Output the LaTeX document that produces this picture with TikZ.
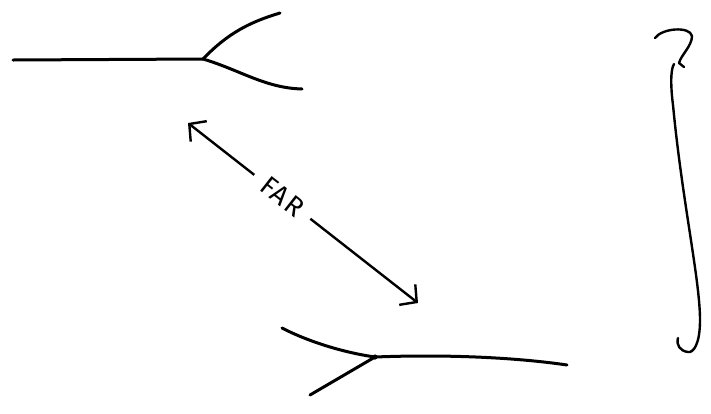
\documentclass[tikz,border=0pt]{standalone}
\usepackage{fontspec}
\newfontfamily\handfont[LetterSpace=6]{Fira Sans}
\usetikzlibrary{arrows.meta}

\begin{document}
\begin{tikzpicture}[
    x=1pt, y=-1pt,
    line cap=round, line join=round,
    pen/.style={line width=3pt},
    thinpen/.style={line width=2.4pt},
    barb/.tip={Straight Barb[length=12pt,width=26pt]},
  ]

  \useasboundingbox (0,0) rectangle (711,413);

  \coordinate (topstem) at (13,60);
  \coordinate (topjoin) at (203,59);
  \coordinate (topup) at (280,13);
  \coordinate (topdown) at (302,89);

  \coordinate (botjoin) at (375,357);
  \coordinate (botup) at (282,328);
  \coordinate (botdown) at (310,395);
  \coordinate (botstem) at (567,365);

  \coordinate (farA) at (188,123);
  \coordinate (farB) at (418,303);

  % Upper fork
  \draw[pen] (topstem) -- (topjoin);
  \draw[pen] (topjoin) .. controls (228,33) and (250,22) .. (topup);
  \draw[pen] (topjoin) .. controls (240,70) and (265,88) .. (topdown);

  % Lower fork
  \draw[pen] (botup) .. controls (305,340) and (340,352) .. (botjoin);
  \draw[pen] (botjoin) -- (botdown);
  \draw[pen] (botjoin) .. controls (450,354) and (520,358) .. (botstem);
  \fill (botjoin) circle (2.6pt);

  % Distance arrow with label
  \draw[thinpen, barb-barb]
    (farA) -- (farB)
    node[pos=0.41, sloped, fill=white, inner xsep=12pt, inner ysep=1pt,
         font=\handfont\fontsize{27}{27}\selectfont] {FAR};

  % Bracket with question hook
  \draw[thinpen] (655,38) .. controls (662,28) and (690,26) .. (692,36)
    .. controls (692,46) and (681,55) .. (679,63) -- (684,67);
  \draw[thinpen] (674,64) .. controls (670,70) and (671,90) .. (673,105)
    .. controls (682,200) and (700,280) .. (700,320)
    .. controls (700,345) and (693,353) .. (688,352)
    .. controls (680,351) and (676,345) .. (678,338);

\end{tikzpicture}
\end{document}
